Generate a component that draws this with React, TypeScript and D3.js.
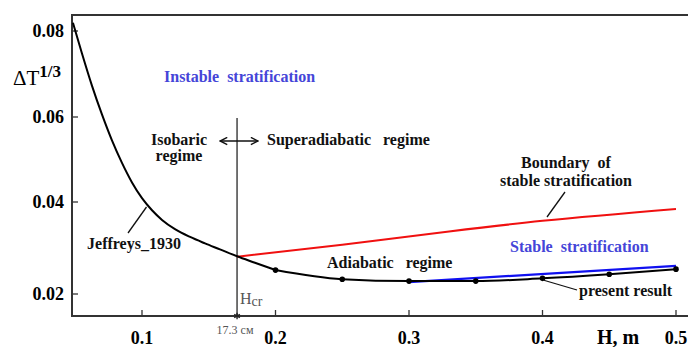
import React, { useRef, useEffect } from "react";
import * as d3 from "d3";

// Jeffreys (1930) curve, H in m -> ΔT^(1/3)
const jeffreysH = [0.0483, 0.0551, 0.0625, 0.07, 0.0775, 0.085, 0.0925, 0.1, 0.1075, 0.115, 0.1247, 0.136, 0.1472, 0.1584, 0.1712, 0.1846, 0.2];
const jeffreysV = [0.0819, 0.0747, 0.0673, 0.0606, 0.0545, 0.0492, 0.0446, 0.0409, 0.0382, 0.0361, 0.0341, 0.0324, 0.031, 0.0297, 0.0282, 0.0268, 0.0252];

// present result (dots)
const presentH = [0.2, 0.25, 0.3, 0.35, 0.4, 0.45, 0.5];
const presentV = [0.0252, 0.0232, 0.0228, 0.0228, 0.0234, 0.0243, 0.0254];

// boundary of stable stratification (red)
const boundaryH = [0.1712, 0.25, 0.33, 0.4, 0.5];
const boundaryV = [0.0281, 0.0307, 0.0336, 0.0359, 0.0385];

// stable stratification line (blue)
const stableH = [0.3, 0.5];
const stableV = [0.0226, 0.0261];

const xTicks = [0.1, 0.2, 0.3, 0.4, 0.5];
const yTicks = [0.02, 0.04, 0.06, 0.08];
const hCr = 0.1712;

const SERIF = "'Liberation Serif', 'Times New Roman', serif";

function App() {
  const svgRef = useRef<SVGSVGElement>(null);

  useEffect(() => {
    const svg = d3.select(svgRef.current);
    const width = 688;
    const height = 347;
    svg.attr("width", width).attr("height", height);
    svg.selectAll("*").remove();

    const left = 72, top = 15, bottom = 316;

    const x = d3.scaleLinear().domain([0.1, 0.5]).range([142, 676]);
    // hand-drawn y axis: spacing between ticks is not uniform
    const y = d3.scaleLinear().domain([0.02, 0.04, 0.06, 0.08]).range([294, 202, 117, 31]);

    const defs = svg.append("defs");
    defs.append("marker")
      .attr("id", "arr")
      .attr("viewBox", "0 0 10 10")
      .attr("refX", 9).attr("refY", 5)
      .attr("markerWidth", 9).attr("markerHeight", 9)
      .attr("markerUnits", "userSpaceOnUse")
      .attr("orient", "auto-start-reverse")
      .append("path")
      .attr("d", "M1,1 L9,5 L1,9")
      .attr("fill", "none")
      .attr("stroke", "#111")
      .attr("stroke-width", 1.6);

    // frame
    const axisColor = "#333";
    svg.append("path")
      .attr("d", `M${width},${top} H${left} V${bottom} H${width}`)
      .attr("fill", "none")
      .attr("stroke", axisColor)
      .attr("stroke-width", 2);

    // ticks (inward)
    svg.append("g").selectAll("line").data(xTicks).join("line")
      .attr("x1", d => x(d)).attr("x2", d => x(d))
      .attr("y1", bottom).attr("y2", bottom - 6)
      .attr("stroke", axisColor).attr("stroke-width", 1.3);
    svg.append("g").selectAll("line").data(yTicks).join("line")
      .attr("x1", left).attr("x2", left + 6)
      .attr("y1", d => y(d)).attr("y2", d => y(d))
      .attr("stroke", axisColor).attr("stroke-width", 1.3);

    // tick labels
    svg.append("g").selectAll("text").data(xTicks).join("text")
      .attr("x", d => x(d)).attr("y", 344)
      .attr("text-anchor", "middle")
      .attr("font-family", SERIF).attr("font-weight", "bold").attr("font-size", 18)
      .text(d => d3.format(".1f")(d));
    svg.append("g").selectAll("text").data(yTicks).join("text")
      .attr("x", 64).attr("y", d => y(d) + 6)
      .attr("text-anchor", "end")
      .attr("font-family", SERIF).attr("font-weight", "bold").attr("font-size", 18)
      .text(d => d3.format(".2f")(d));

    // axis titles
    svg.append("text")
      .attr("x", 597).attr("y", 344)
      .attr("font-family", SERIF).attr("font-weight", "bold").attr("font-size", 20)
      .style("white-space", "pre")
      .text("H, m");
    const yl = svg.append("text")
      .attr("x", 13).attr("y", 85)
      .attr("font-family", SERIF).attr("font-size", 21);
    yl.append("tspan").text("ΔT");
    yl.append("tspan").attr("dy", -8).attr("font-size", 17).attr("font-weight", "bold").text("1/3");

    // Hcr vertical line
    svg.append("line")
      .attr("x1", x(hCr)).attr("x2", x(hCr))
      .attr("y1", 118).attr("y2", bottom)
      .attr("stroke", "#444").attr("stroke-width", 1.5);
    svg.append("path")
      .attr("d", d3.symbol(d3.symbolAsterisk, 30)())
      .attr("transform", `translate(${x(hCr)},${bottom})`)
      .attr("fill", "none").attr("stroke", "#222").attr("stroke-width", 1.4);
    const hl = svg.append("text")
      .attr("x", x(hCr) + 3).attr("y", 304)
      .attr("font-family", SERIF).attr("font-size", 16).attr("fill", "#555");
    hl.append("tspan").text("H");
    hl.append("tspan").attr("dy", 2).attr("font-size", 14).text("cr");
    svg.append("text")
      .attr("x", x(hCr) - 2).attr("y", 334)
      .attr("text-anchor", "middle")
      .attr("font-family", SERIF).attr("font-size", 12).attr("fill", "#555")
      .text("17.3 см");

    // double arrow
    svg.append("line")
      .attr("x1", x(hCr) - 17).attr("x2", x(hCr) + 21)
      .attr("y1", 141).attr("y2", 141)
      .attr("stroke", "#111").attr("stroke-width", 1.5)
      .attr("marker-start", "url(#arr)").attr("marker-end", "url(#arr)");

    const line = d3.line<[number, number]>()
      .x(d => x(d[0])).y(d => y(d[1]))
      .curve(d3.curveMonotoneX);

    // red boundary
    svg.append("path")
      .datum(d3.zip(boundaryH, boundaryV) as [number, number][])
      .attr("d", line)
      .attr("fill", "none").attr("stroke", "#f01010").attr("stroke-width", 2);

    // blue stable line
    svg.append("path")
      .datum(d3.zip(stableH, stableV) as [number, number][])
      .attr("d", line)
      .attr("fill", "none").attr("stroke", "#1010f0").attr("stroke-width", 2.2);

    // Jeffreys curve + present result
    svg.append("path")
      .datum(d3.zip(jeffreysH, jeffreysV) as [number, number][])
      .attr("d", line)
      .attr("fill", "none").attr("stroke", "#000").attr("stroke-width", 2);
    svg.append("path")
      .datum(d3.zip(presentH, presentV) as [number, number][])
      .attr("d", line)
      .attr("fill", "none").attr("stroke", "#000").attr("stroke-width", 2);
    svg.append("g").selectAll("circle")
      .data(d3.zip(presentH, presentV))
      .join("circle")
      .attr("cx", d => x(d[0])).attr("cy", d => y(d[1]))
      .attr("r", 2.8).attr("fill", "#000");

    // annotations
    const label = (tx: number, ty: number, t: string, color = "#111", anchor = "start") =>
      svg.append("text")
        .attr("x", tx).attr("y", ty)
        .attr("text-anchor", anchor)
        .attr("font-family", SERIF).attr("font-weight", "bold").attr("font-size", 16)
        .attr("fill", color)
        .style("white-space", "pre")
        .text(t);

    const blueText = "#4545d8";
    label(164, 82, "Instable  stratification", blueText);
    label(179, 145, "Isobaric", "#111", "middle");
    label(179, 161, "regime", "#111", "middle");
    label(267, 145, "Superadiabatic   regime");
    label(566, 168, "Boundary  of", "#111", "middle");
    label(566, 186, "stable stratification", "#111", "middle");
    label(510, 252, "Stable  stratification", blueText);
    label(327, 268, "Adiabatic   regime");
    label(579, 296, "present result");
    label(134, 249, "Jeffreys_1930", "#111", "middle");

    // pointer lines
    const pointers: [number, number, number, number][] = [
      [128, 233, 146.5, 207],
      [565, 192, 547, 217],
      [543, 280, 577, 290],
    ];
    svg.append("g").selectAll("line").data(pointers).join("line")
      .attr("x1", d => d[0]).attr("y1", d => d[1])
      .attr("x2", d => d[2]).attr("y2", d => d[3])
      .attr("stroke", "#111").attr("stroke-width", 1.3);
  }, []);

  return <svg ref={svgRef} style={{ position: "absolute", left: 0, top: 0 }}></svg>;
}

export default App;
